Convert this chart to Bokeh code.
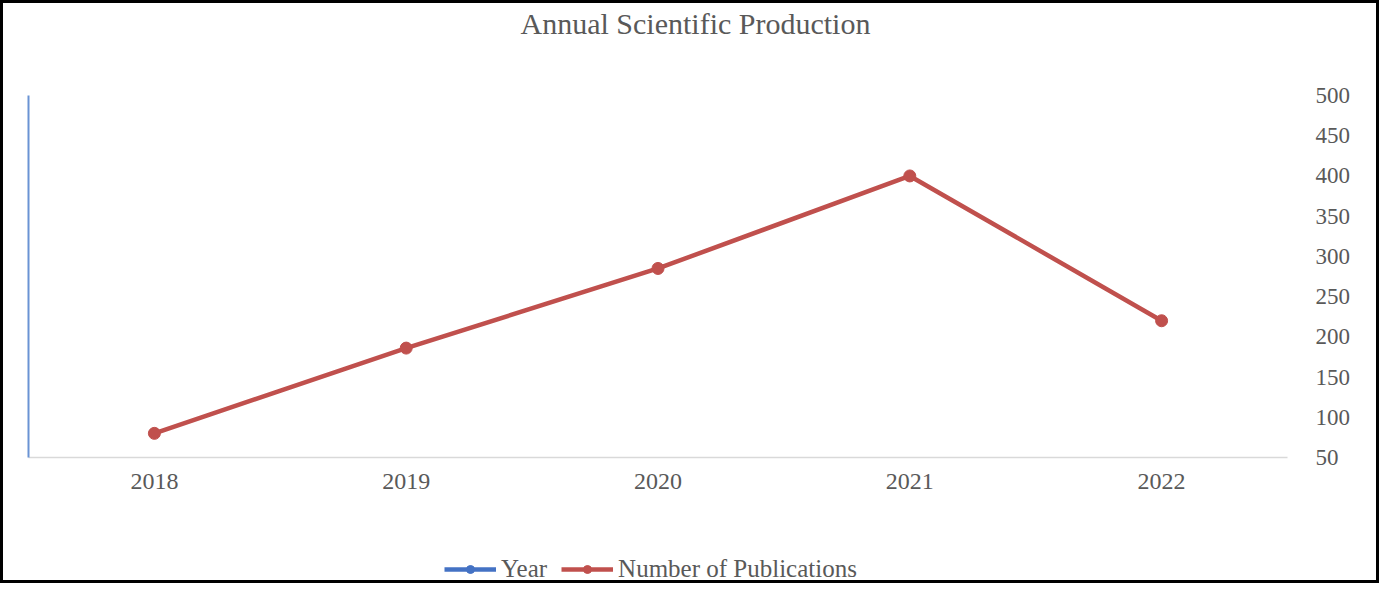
from bokeh.plotting import figure
from bokeh.layouts import column
from bokeh.models import (LinearAxis, CategoricalAxis, FixedTicker, Range1d, Legend, LegendItem,
                          ColumnDataSource, FactorRange)
from bokeh.embed import file_html
from bokeh.resources import INLINE

years = ["2018", "2019", "2020", "2021", "2022"]
year_values = [2018, 2019, 2020, 2021, 2022]
publications = [80, 186, 285, 400, 220]
y_ticks = [50, 100, 150, 200, 250, 300, 350, 400, 450, 500]
title_text = "Annual Scientific Production"
legend_labels = ["Year", "Number of Publications"]

FONT = "Liberation Serif"
GREY = "#595959"
RED = "#C0504D"
BLUE = "#4472C4"

xr = FactorRange(*years, range_padding=0)

p = figure(width=1379, height=540, x_range=xr,
           y_range=Range1d(50, 500), y_axis_location="right",
           output_backend="svg", toolbar_location=None, title=title_text)
p.styles = {"border": "3px solid black", "border-bottom": "none"}
p.min_border_left = 25
p.min_border_right = 95
p.min_border_top = 92
p.min_border_bottom = 86
p.outline_line_color = None
p.xgrid.grid_line_color = None
p.ygrid.grid_line_color = None
p.background_fill_color = "white"
p.border_fill_color = "white"

p.title.text_font = FONT
p.title.text_font_size = "30px"
p.title.text_font_style = "normal"
p.title.text_color = GREY
p.title.align = "left"
p.title.offset = 492
p.title.standoff = 0

# bottom category axis (grab it before any other axis is added)
xa = p.below[0]
xa.axis_line_color = "#D9D9D9"
xa.axis_line_width = 1.5
xa.major_tick_line_color = None
xa.minor_tick_line_color = None
xa.major_tick_out = 0
xa.major_label_standoff = 16
xa.major_label_text_font = FONT
xa.major_label_text_font_size = "24px"
xa.major_label_text_color = GREY

# right value axis
ya = p.right[0]
ya.ticker = FixedTicker(ticks=y_ticks)
ya.axis_line_color = None
ya.major_tick_line_color = None
ya.minor_tick_line_color = None
ya.major_tick_out = 0
ya.major_label_standoff = 28
ya.major_label_text_font = FONT
ya.major_label_text_font_size = "23px"
ya.major_label_text_color = GREY

# spacer that pushes the title up
p.add_layout(CategoricalAxis(axis_line_color=None, major_tick_line_color=None,
                             minor_tick_line_color=None, major_tick_in=0, major_tick_out=56,
                             minor_tick_out=0, major_label_standoff=0,
                             major_label_text_font_size="0px", major_label_text_color=None),
             "above")

# left (Year) axis line
la = LinearAxis(ticker=FixedTicker(ticks=[]), axis_line_color="#6A93D4", axis_line_width=2,
                major_tick_line_color=None, minor_tick_line_color=None, major_tick_out=0,
                major_label_text_font_size="0px", major_label_standoff=0)
p.add_layout(la, "left")

src = ColumnDataSource(dict(x=years, year=year_values, pubs=publications))
# Year series lies far above the visible value range (as in the original chart)
p.line("x", "year", source=src, line_color=BLUE, line_width=4.5)
p.line("x", "pubs", source=src, line_color=RED, line_width=4.5)
p.scatter("x", "pubs", source=src, size=12, fill_color=RED, line_color=RED)

# legend strip below the chart
p2 = figure(width=1379, height=43, x_range=xr, y_range=Range1d(0, 1),
            x_axis_type=None, y_axis_type=None,
            output_backend="svg", toolbar_location=None)
p2.styles = {"border": "3px solid black", "border-top": "none"}
p2.min_border_left = 0
p2.min_border_right = 0
p2.min_border_top = 0
p2.min_border_bottom = 0
p2.outline_line_color = None
p2.xgrid.grid_line_color = None
p2.ygrid.grid_line_color = None
p2.background_fill_color = "white"
p2.border_fill_color = "white"

b_line = p2.line("x", "year", source=src, line_color=BLUE, line_width=4.5)
b_pts = p2.scatter("x", "year", source=src, size=10, fill_color=BLUE, line_color=BLUE)
r_line = p2.line("x", "pubs", source=src, line_color=RED, line_width=4.5)
r_pts = p2.scatter("x", "pubs", source=src, size=10, fill_color=RED, line_color=RED)

legend = Legend(items=[LegendItem(label=legend_labels[0], renderers=[b_line, b_pts]),
                       LegendItem(label=legend_labels[1], renderers=[r_line, r_pts])],
                location=(416, 0), orientation="horizontal",
                background_fill_alpha=0, border_line_color=None,
                padding=0, margin=0, spacing=14, glyph_width=52, glyph_height=20,
                label_standoff=5, label_height=20,
                label_text_font=FONT, label_text_font_size="25px",
                label_text_color=GREY)
p2.add_layout(legend, "center")

layout = column(p, p2, spacing=0)
open("out.html", "w").write(file_html(layout, INLINE))
